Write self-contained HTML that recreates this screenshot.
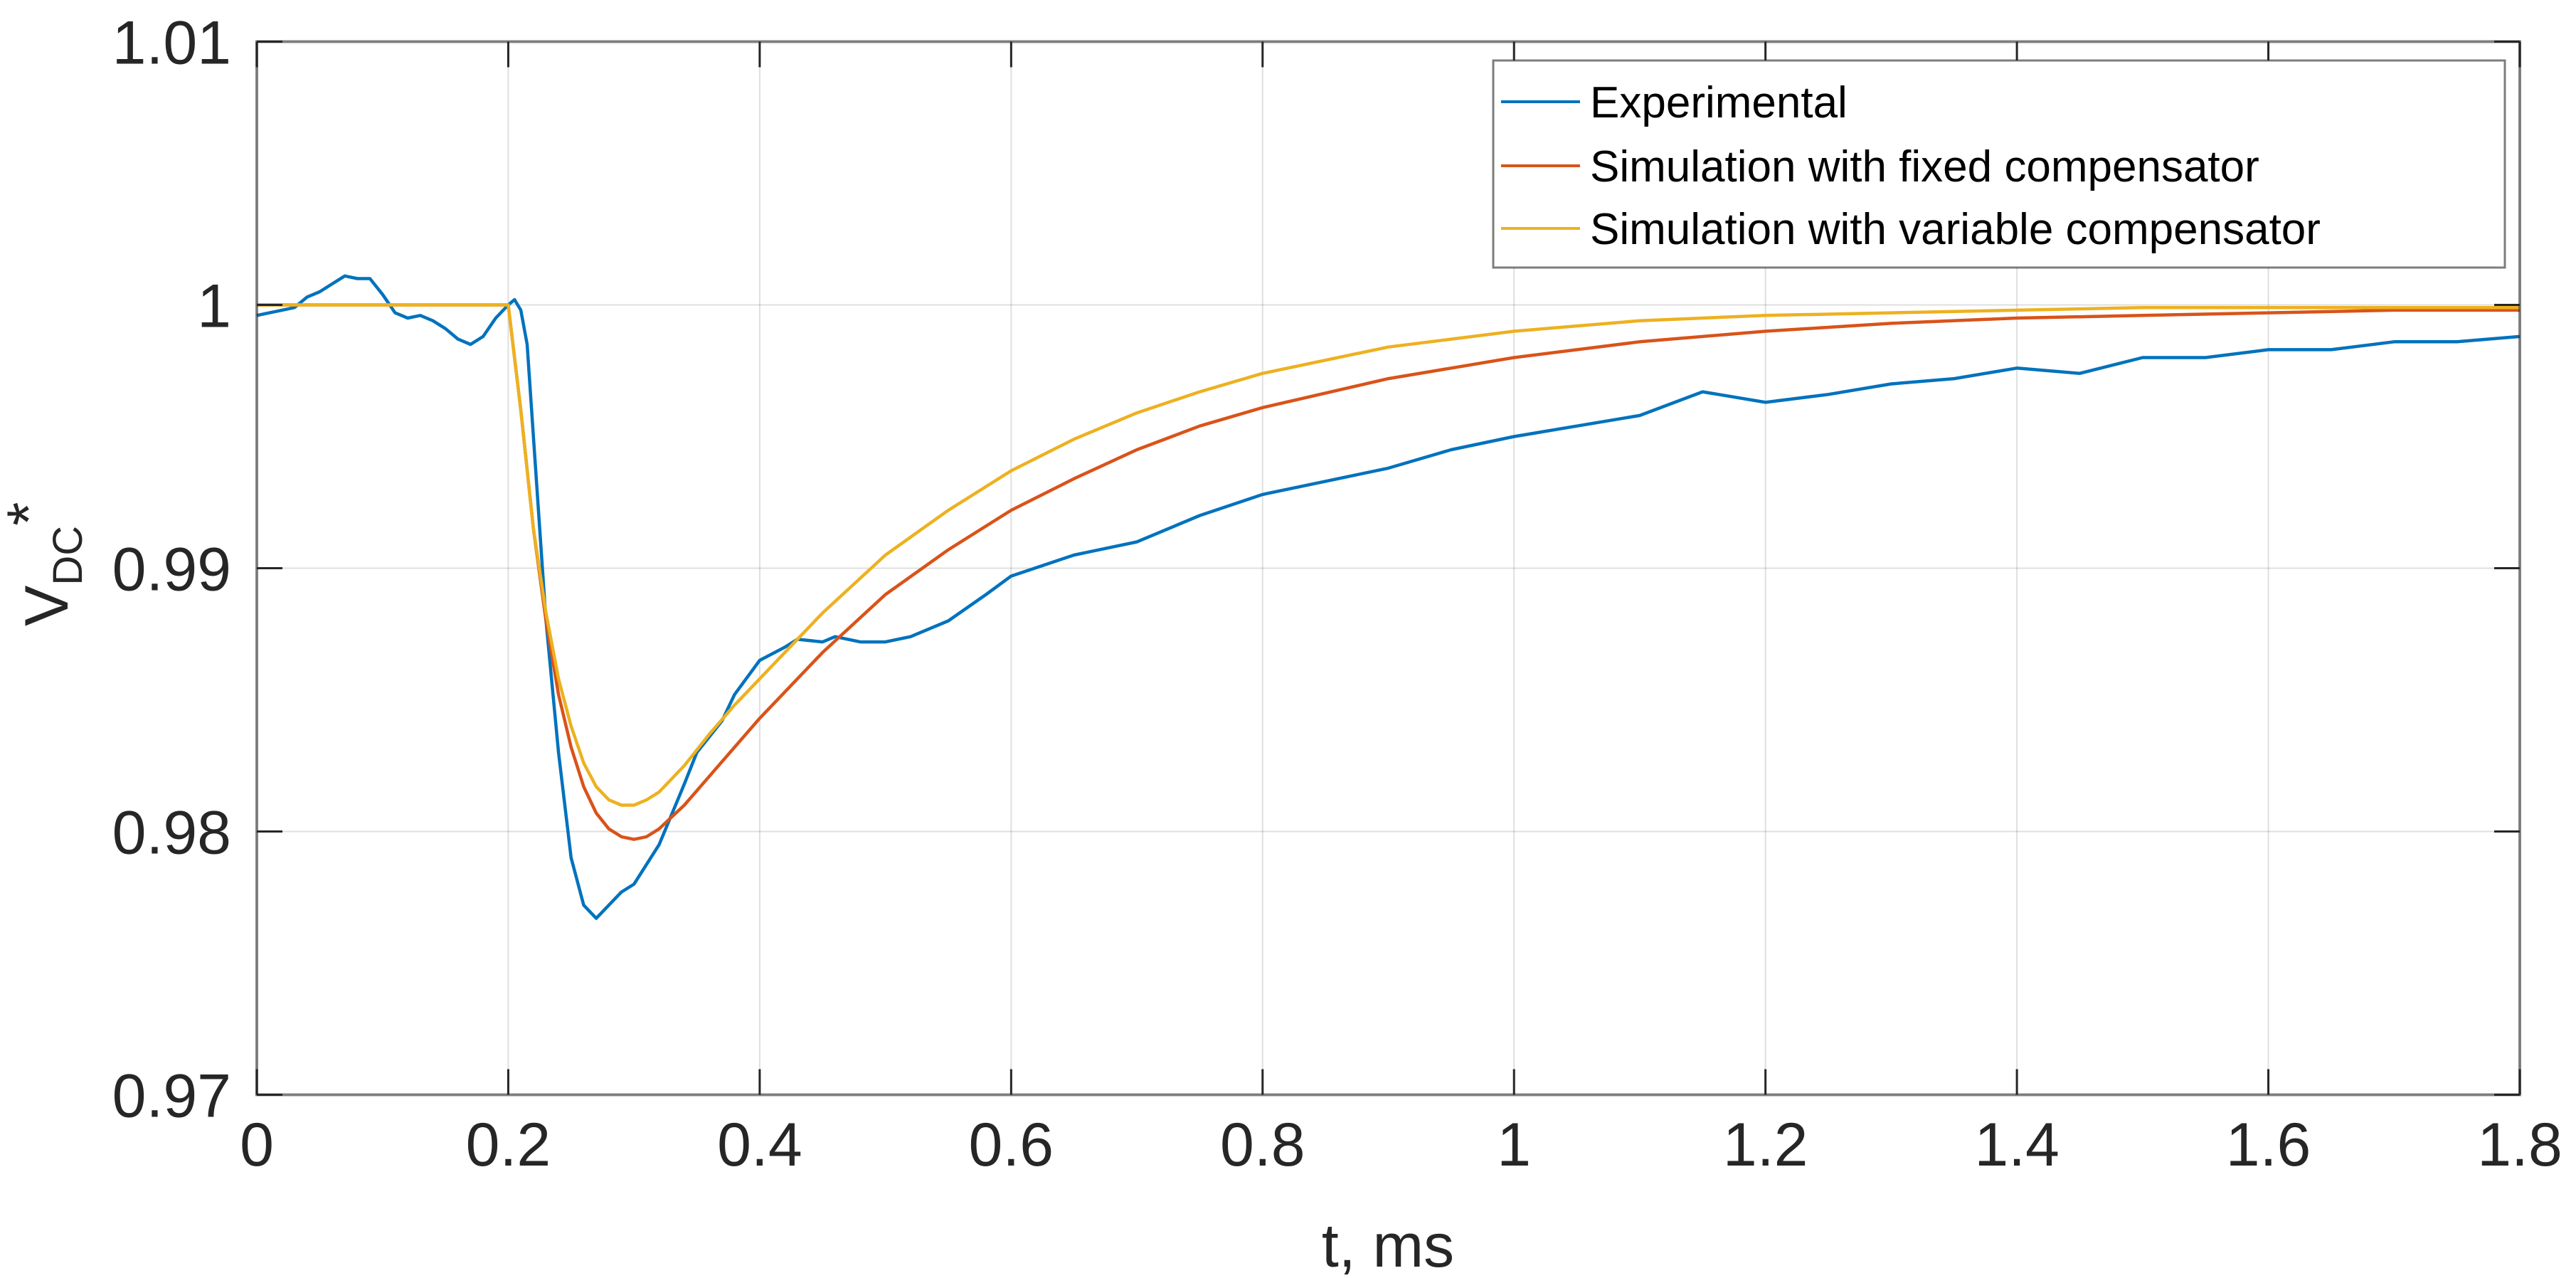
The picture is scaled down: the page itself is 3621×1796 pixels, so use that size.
<!DOCTYPE html>
<html><head><meta charset="utf-8"><style>
html,body{margin:0;padding:0;background:#fff;}
svg{display:block;font-family:"Liberation Sans",Arial,sans-serif;}
</style></head><body>
<svg id="chart" width="3621" height="1796" viewBox="0 0 3621 1796">
<g id="grid"></g>
<g id="series"></g>
<rect x="361" y="58.5" width="3181" height="1480" fill="none" stroke="#262626" stroke-opacity="0.55" stroke-width="4"/>
<g id="ticks"></g>
<text x="1951" y="1780" font-size="86" text-anchor="middle" fill="#262626">t, ms</text>
<text transform="translate(95,880) rotate(-90)" font-size="86" fill="#262626">V<tspan font-size="58" dy="20">DC</tspan><tspan font-size="86" dy="-45">*</tspan></text>
<g>
<rect x="2099" y="85" width="1422" height="291" fill="#fff" stroke="#262626" stroke-opacity="0.6" stroke-width="3"/>
<line x1="2110" y1="143" x2="2221" y2="143" stroke="#0072BD" stroke-width="4"/>
<text x="2235" y="165" font-size="62" fill="#000">Experimental</text>
<line x1="2110" y1="233" x2="2221" y2="233" stroke="#D95319" stroke-width="4"/>
<text x="2235" y="255" font-size="62" fill="#000">Simulation with fixed compensator</text>
<line x1="2110" y1="321" x2="2221" y2="321" stroke="#EDB120" stroke-width="4"/>
<text x="2235" y="343" font-size="62" fill="#000">Simulation with variable compensator</text>
</g>
</svg>
<script>
const xTicks=[0,0.2,0.4,0.6,0.8,1,1.2,1.4,1.6,1.8];
const xTickLabels=["0","0.2","0.4","0.6","0.8","1","1.2","1.4","1.6","1.8"];
const yTicks=[0.97,0.98,0.99,1,1.01];
const yTickLabels=["0.97","0.98","0.99","1","1.01"];
const expT=[0,0.01,0.02,0.03,0.04,0.05,0.06,0.07,0.08,0.09,0.10,0.11,0.12,0.13,0.14,0.15,0.16,0.17,0.18,0.19,0.2,0.205,0.21,0.215,0.22,0.23,0.24,0.25,0.26,0.27,0.28,0.29,0.30,0.32,0.34,0.35,0.37,0.38,0.40,0.42,0.43,0.45,0.46,0.48,0.5,0.52,0.55,0.58,0.6,0.65,0.7,0.75,0.8,0.85,0.9,0.95,1.0,1.05,1.1,1.15,1.2,1.25,1.3,1.35,1.4,1.45,1.5,1.55,1.6,1.65,1.7,1.75,1.8];
const expV=[0.9996,0.9997,0.9998,0.9999,1.0003,1.0005,1.0008,1.0011,1.0010,1.0010,1.0004,0.9997,0.9995,0.9996,0.9994,0.9991,0.9987,0.9985,0.9988,0.9995,1.0000,1.0002,0.9998,0.9985,0.9950,0.9880,0.9830,0.9790,0.9772,0.9767,0.9772,0.9777,0.9780,0.9795,0.9818,0.9830,0.9842,0.9852,0.9865,0.9870,0.9873,0.9872,0.9874,0.9872,0.9872,0.9874,0.9880,0.9890,0.9897,0.9905,0.9910,0.9920,0.9928,0.9933,0.9938,0.9945,0.9950,0.9954,0.9958,0.9967,0.9963,0.9966,0.9970,0.9972,0.9976,0.9974,0.9980,0.9980,0.9983,0.9983,0.9986,0.9986,0.9988];
const fixT=[0,0.2,0.21,0.22,0.23,0.24,0.25,0.26,0.27,0.28,0.29,0.30,0.31,0.32,0.34,0.36,0.38,0.4,0.45,0.5,0.55,0.6,0.65,0.7,0.75,0.8,0.9,1.0,1.1,1.2,1.3,1.4,1.5,1.6,1.7,1.8];
const fixV=[1.0,1.0,0.9960,0.9915,0.9880,0.9852,0.9832,0.9817,0.9807,0.9801,0.9798,0.9797,0.9798,0.9801,0.9810,0.9821,0.9832,0.9843,0.9868,0.9890,0.9907,0.9922,0.9934,0.9945,0.9954,0.9961,0.9972,0.9980,0.9986,0.9990,0.9993,0.9995,0.9996,0.9997,0.9998,0.9998];
const varT=[0,0.2,0.21,0.22,0.23,0.24,0.25,0.26,0.27,0.28,0.29,0.30,0.31,0.32,0.34,0.36,0.38,0.4,0.45,0.5,0.55,0.6,0.65,0.7,0.75,0.8,0.9,1.0,1.1,1.2,1.3,1.4,1.5,1.6,1.7,1.8];
const varV=[1.0,1.0,0.9960,0.9915,0.9883,0.9858,0.9840,0.9826,0.9817,0.9812,0.9810,0.9810,0.9812,0.9815,0.9825,0.9837,0.9848,0.9858,0.9883,0.9905,0.9922,0.9937,0.9949,0.9959,0.9967,0.9974,0.9984,0.9990,0.9994,0.9996,0.9997,0.9998,0.9999,0.9999,0.9999,0.9999];
const L=361,R=3542,T=58.5,B=1538.5;
const sx=t=>L+(t-0)/1.8*(R-L);
const sy=v=>B-(v-0.97)/0.04*(B-T);
const NS="http://www.w3.org/2000/svg";
const grid=document.getElementById('grid'),ticks=document.getElementById('ticks'),ser=document.getElementById('series');
function mk(tag,attrs,parent){const e=document.createElementNS(NS,tag);for(const k in attrs)e.setAttribute(k,attrs[k]);parent.appendChild(e);return e;}
xTicks.forEach((t,i)=>{
 const g=mk('line',{x1:sx(t),x2:sx(t),y1:T,y2:B,stroke:'#262626','stroke-opacity':0.15,'stroke-width':2},grid);
 
 
 const tk=mk('line',{x1:sx(t),x2:sx(t),y1:B,y2:B-36,stroke:'#262626','stroke-width':3},ticks);
 
 
 const tk2=mk('line',{x1:sx(t),x2:sx(t),y1:T,y2:T+36,stroke:'#262626','stroke-width':3},ticks);
 
 
 const tx=mk('text',{x:sx(t),y:1638,'font-size':86,'text-anchor':'middle',fill:'#262626'},ticks);
 tx.textContent=xTickLabels[i];
 
 
});
yTicks.forEach((v,i)=>{
 const g=mk('line',{x1:L,x2:R,y1:sy(v),y2:sy(v),stroke:'#262626','stroke-opacity':0.15,'stroke-width':2},grid);
 
 
 const tk=mk('line',{x1:L,x2:L+36,y1:sy(v),y2:sy(v),stroke:'#262626','stroke-width':3},ticks);
 
 
 const tk2=mk('line',{x1:R,x2:R-36,y1:sy(v),y2:sy(v),stroke:'#262626','stroke-width':3},ticks);
 
 
 const tx=mk('text',{x:325,y:sy(v)+31,'font-size':86,'text-anchor':'end',fill:'#262626'},ticks);
 tx.textContent=yTickLabels[i];
 
 
});
function line(ts,vs,color,name){
 const d=ts.map((t,i)=>(i?'L':'M')+sx(t).toFixed(1)+','+sy(vs[i]).toFixed(1)).join(' ');
 const p=mk('path',{d:d,fill:'none',stroke:color,'stroke-width':4.5,'stroke-linejoin':'round'},ser);
 
 
}
line(expT,expV,'#0072BD','experimental-line');
line(fixT,fixV,'#D95319','fixed-compensator-line');
line(varT,varV,'#EDB120','variable-compensator-line');
</script>
</body></html>
